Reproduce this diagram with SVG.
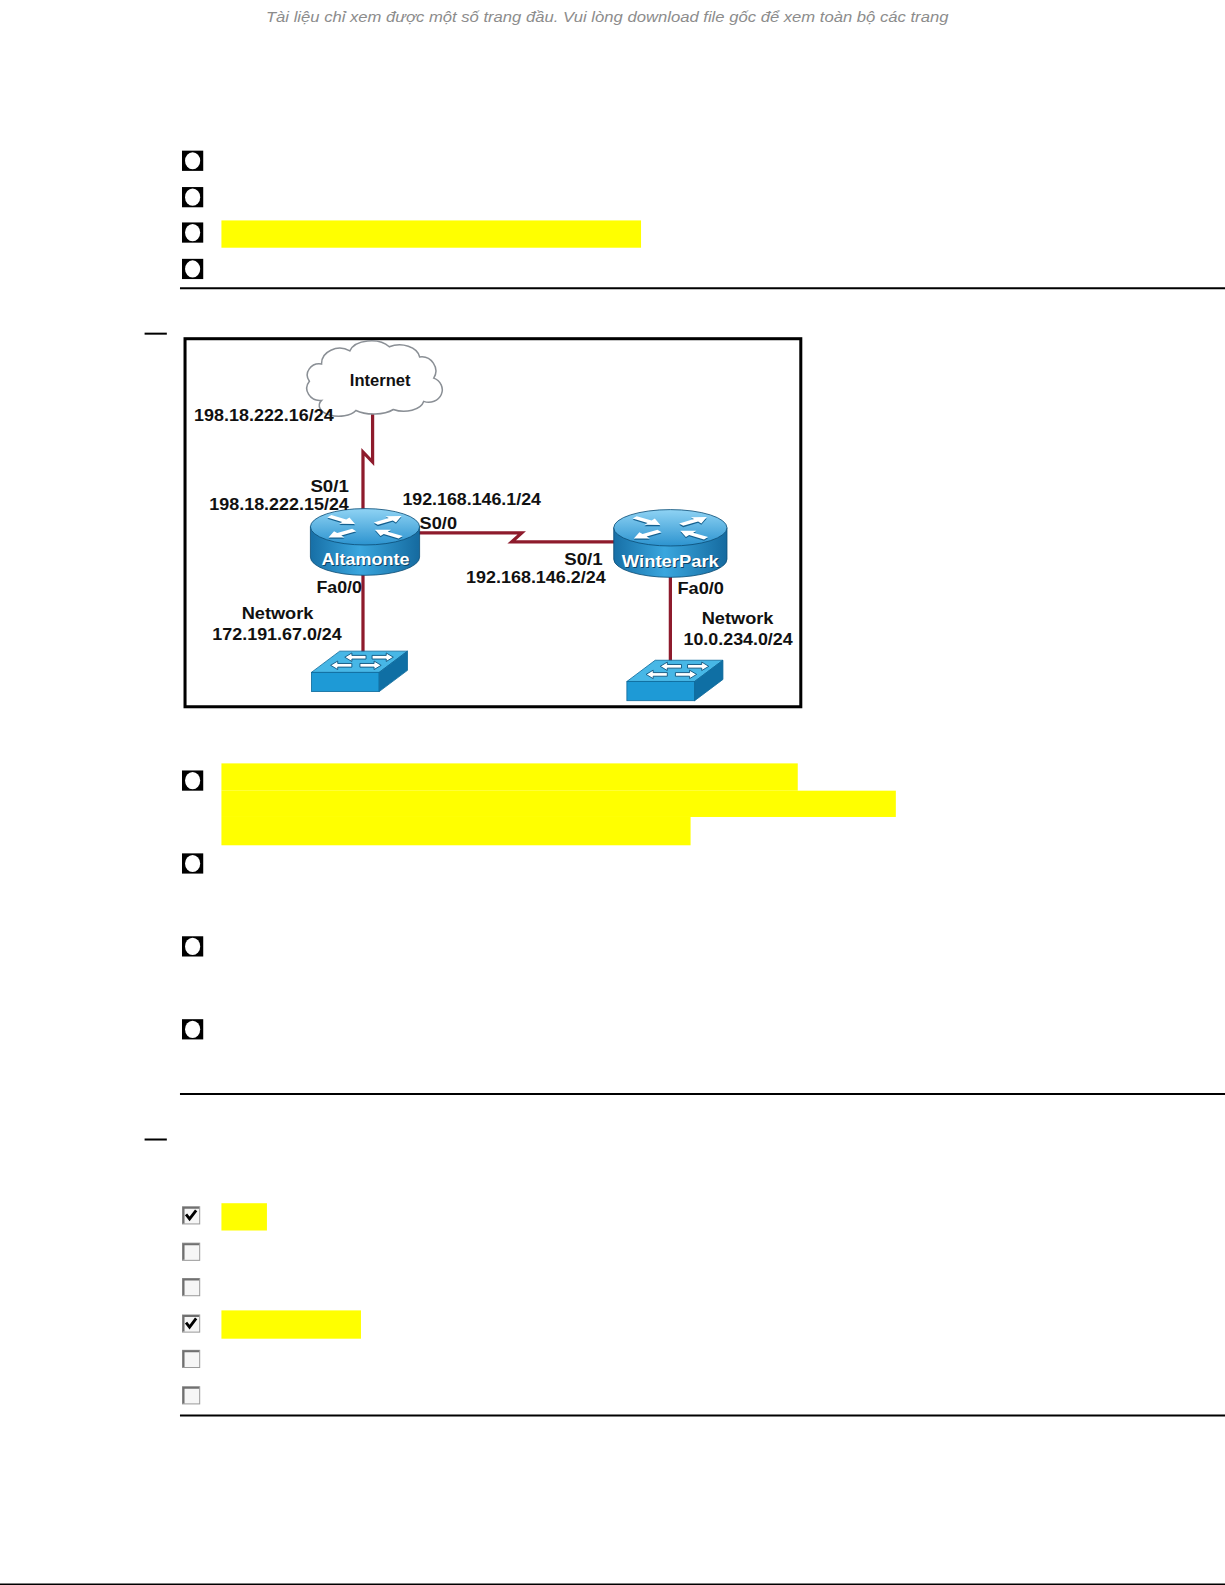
<svg xmlns="http://www.w3.org/2000/svg" width="1225" height="1585" viewBox="0 0 1225 1585">
<style>
.lbl{font-family:"Liberation Sans",Arial,sans-serif;font-weight:bold;font-size:17px;fill:#111}
.rname{font-family:"Liberation Sans",Arial,sans-serif;font-weight:bold;font-size:17px;fill:#fff}
.rshadow{font-family:"Liberation Sans",Arial,sans-serif;font-weight:bold;font-size:17px;fill:#0b4468}
.hdr{font-family:"Liberation Sans",Arial,sans-serif;font-style:italic;font-size:15px;fill:#8c8c8c}
.rule{stroke:#000;stroke-width:2}
.hl{fill:#ffff00}
.link{fill:none;stroke:#8e1b2c;stroke-width:3.2}
.arrow{fill:#fff}
.ashadow{fill:#14608f}
.cb{fill:#f6f6f6;stroke:#9a9a9a;stroke-width:1}
.cbdark{fill:none;stroke:#707070;stroke-width:2}
.check{fill:none;stroke:#000;stroke-width:2.8}
.swtop{fill:#47b7e6;stroke:#0e6a9c;stroke-width:0.8}
.swfront{fill:#1e9ad6;stroke:#0e6a9c;stroke-width:0.8}
.swside{fill:#0f6fa4;stroke:#0e6a9c;stroke-width:0.8}
.swa{fill:#fff;stroke:#0d5580;stroke-width:0.9}
</style>
<defs>
<linearGradient id="rtop" x1="0" y1="0" x2="0" y2="1">
<stop offset="0" stop-color="#8fd3f4"/>
<stop offset="1" stop-color="#2c93cf"/>
</linearGradient>
<linearGradient id="rbody" x1="0" y1="0" x2="1" y2="0">
<stop offset="0" stop-color="#176fa6"/>
<stop offset="0.45" stop-color="#3aa6de"/>
<stop offset="1" stop-color="#156a9f"/>
</linearGradient>
<polygon id="arr" points="-15,-3.5 3,-3.5 3,-9 16,0 3,9 3,3.5 -15,3.5"/>
<g id="rarrows">
<g class="ashadow" transform="translate(0,3)">
<use href="#arr" transform="translate(-23,-16) rotate(35)"/>
<use href="#arr" transform="translate(23,16) rotate(215)"/>
<use href="#arr" transform="translate(23,-16) rotate(-35)"/>
<use href="#arr" transform="translate(-23,16) rotate(145)"/>
</g>
<g class="arrow">
<use href="#arr" transform="translate(-23,-16) rotate(35)"/>
<use href="#arr" transform="translate(23,16) rotate(215)"/>
<use href="#arr" transform="translate(23,-16) rotate(-35)"/>
<use href="#arr" transform="translate(-23,16) rotate(145)"/>
</g>
</g>
<g id="radio">
<rect x="0" y="0" width="21" height="20" fill="#000"/>
<ellipse cx="10.5" cy="10" rx="7.5" ry="8.5" fill="#fff"/>
</g>
<g id="cbox">
<rect class="cb" x="0.5" y="0.5" width="17" height="17"/>
<path class="cbdark" d="M1.5,17 V1.5 H17"/>
</g>
<path id="chk" class="check" d="M4,8 L7.5,12.5 L14,4"/>
<polygon id="swr" class="swa" points="-21,-1.8 -7,-1.8 -7,-4.2 0,0 -7,4.2 -7,1.8 -21,1.8"/>
</defs>

<rect x="0" y="0" width="1225" height="1585" fill="#fff"/>

<g transform="scale(1.0111)">
<text class="hdr" x="263" y="22" textLength="675" lengthAdjust="spacingAndGlyphs">Tài liệu chỉ xem được một số trang đầu. Vui lòng download file gốc để xem toàn bộ các trang</text>

<g id="q1">
<use href="#radio" x="180" y="149"/>
<use href="#radio" x="180" y="185"/>
<rect class="hl" x="219" y="218" width="415" height="27"/>
<use href="#radio" x="180" y="220"/>
<use href="#radio" x="180" y="256"/>
<line class="rule" x1="178" y1="285" x2="1212" y2="285"/>
</g>

<line class="rule" x1="143" y1="330" x2="165" y2="330"/>

<g id="diagram">
<rect id="frame" x="183" y="335" width="609" height="364" fill="#fff" stroke="#000" stroke-width="3"/>

<g id="connectors">
<path class="link" d="M368.5,406 V457 L359,447 V512"/>
<path class="link" d="M414,527 H516 L506,536 H609"/>
<path class="link" d="M359,568 V656"/>
<path class="link" d="M663,570 V676"/>
</g>

<g id="internet">
<path d="M318,396 A13,12 0 0 1 306,377 A12,11 0 0 1 318,360 A18,15 0 0 1 346,347 A22,14 0 0 1 385,343 A20,14 0 0 1 415,353 A14,14 0 0 1 429,374 A13,12 0 0 1 419,397 A20,12 0 0 1 389,405 A24,11 0 0 1 352,406 A18,10 0 0 1 318,396 Z" fill="#fff" stroke="#8a8f95" stroke-width="1.5"/>
<text class="lbl" x="346" y="382" font-size="15" textLength="60" lengthAdjust="spacingAndGlyphs">Internet</text>
</g>

<g id="altamonte">
<path d="M307,521 V551 A54,18 0 0 0 415,551 V521 Z" fill="url(#rbody)" stroke="#0b4d75" stroke-width="0.8"/>
<ellipse cx="361" cy="521" rx="54" ry="18" fill="url(#rtop)" stroke="#0b4d75" stroke-width="0.8"/>
<g transform="translate(361,521) scale(1,0.42)"><use href="#rarrows"/></g>
<text class="rshadow" x="319" y="560" textLength="87" lengthAdjust="spacingAndGlyphs">Altamonte</text>
<text class="rname" x="318" y="559" textLength="87" lengthAdjust="spacingAndGlyphs">Altamonte</text>
</g>

<g id="winterpark">
<path d="M607,522 V553 A56,18 0 0 0 719,553 V522 Z" fill="url(#rbody)" stroke="#0b4d75" stroke-width="0.8"/>
<ellipse cx="663" cy="522" rx="56" ry="18" fill="url(#rtop)" stroke="#0b4d75" stroke-width="0.8"/>
<g transform="translate(663,522) scale(1,0.42)"><use href="#rarrows"/></g>
<text class="rshadow" x="616" y="562" textLength="96" lengthAdjust="spacingAndGlyphs">WinterPark</text>
<text class="rname" x="615" y="561" textLength="96" lengthAdjust="spacingAndGlyphs">WinterPark</text>
</g>

<g id="switch1">
<polygon class="swtop" points="308,665 336,644 403,644 375,665"/>
<rect class="swfront" x="308" y="665" width="67" height="19"/>
<polygon class="swside" points="375,665 403,644 403,663 375,684"/>
<use href="#swr" transform="translate(389,650)"/>
<use href="#swr" transform="translate(341,650) scale(-1,1)"/>
<use href="#swr" transform="translate(377,658)"/>
<use href="#swr" transform="translate(327,658) scale(-1,1)"/>
</g>

<g id="switch2">
<polygon class="swtop" points="620,674 648,653 715,653 687,674"/>
<rect class="swfront" x="620" y="674" width="67" height="19"/>
<polygon class="swside" points="687,674 715,653 715,672 687,693"/>
<use href="#swr" transform="translate(701,659)"/>
<use href="#swr" transform="translate(653,659) scale(-1,1)"/>
<use href="#swr" transform="translate(689,667)"/>
<use href="#swr" transform="translate(639,667) scale(-1,1)"/>
</g>

<g id="labels">
<text class="lbl" x="192" y="416" textLength="138" lengthAdjust="spacingAndGlyphs">198.18.222.16/24</text>
<text class="lbl" x="307" y="487" textLength="38" lengthAdjust="spacingAndGlyphs">S0/1</text>
<text class="lbl" x="207" y="504" textLength="138" lengthAdjust="spacingAndGlyphs">198.18.222.15/24</text>
<text class="lbl" x="398" y="499" textLength="137" lengthAdjust="spacingAndGlyphs">192.168.146.1/24</text>
<text class="lbl" x="415" y="523" textLength="37" lengthAdjust="spacingAndGlyphs">S0/0</text>
<text class="lbl" x="558" y="559" textLength="38" lengthAdjust="spacingAndGlyphs">S0/1</text>
<text class="lbl" x="461" y="577" textLength="138" lengthAdjust="spacingAndGlyphs">192.168.146.2/24</text>
<text class="lbl" x="313" y="586" textLength="45" lengthAdjust="spacingAndGlyphs">Fa0/0</text>
<text class="lbl" x="670" y="587" textLength="46" lengthAdjust="spacingAndGlyphs">Fa0/0</text>
<text class="lbl" x="239" y="612" textLength="71" lengthAdjust="spacingAndGlyphs">Network</text>
<text class="lbl" x="210" y="633" textLength="128" lengthAdjust="spacingAndGlyphs">172.191.67.0/24</text>
<text class="lbl" x="694" y="617" textLength="71" lengthAdjust="spacingAndGlyphs">Network</text>
<text class="lbl" x="676" y="638" textLength="108" lengthAdjust="spacingAndGlyphs">10.0.234.0/24</text>
</g>
</g>

<g id="q2">
<rect class="hl" x="219" y="755" width="570" height="27"/>
<rect class="hl" x="219" y="782" width="667" height="26"/>
<rect class="hl" x="219" y="808" width="464" height="28"/>
<use href="#radio" x="180" y="762"/>
<use href="#radio" x="180" y="844"/>
<use href="#radio" x="180" y="926"/>
<use href="#radio" x="180" y="1008"/>
<line class="rule" x1="178" y1="1082" x2="1212" y2="1082"/>
</g>

<line class="rule" x1="143" y1="1127" x2="165" y2="1127"/>

<g id="q3">
<rect class="hl" x="219" y="1190" width="45" height="27"/>
<rect class="hl" x="219" y="1296" width="138" height="28"/>
<use href="#cbox" x="180" y="1193"/>
<use href="#chk" x="180" y="1193"/>
<use href="#cbox" x="180" y="1229"/>
<use href="#cbox" x="180" y="1264"/>
<use href="#cbox" x="180" y="1300"/>
<use href="#chk" x="180" y="1300"/>
<use href="#cbox" x="180" y="1335"/>
<use href="#cbox" x="180" y="1371"/>
<line class="rule" x1="178" y1="1400" x2="1212" y2="1400"/>
</g>

<line class="rule" x1="0" y1="1567" x2="1212" y2="1567"/>
</g>
</svg>
